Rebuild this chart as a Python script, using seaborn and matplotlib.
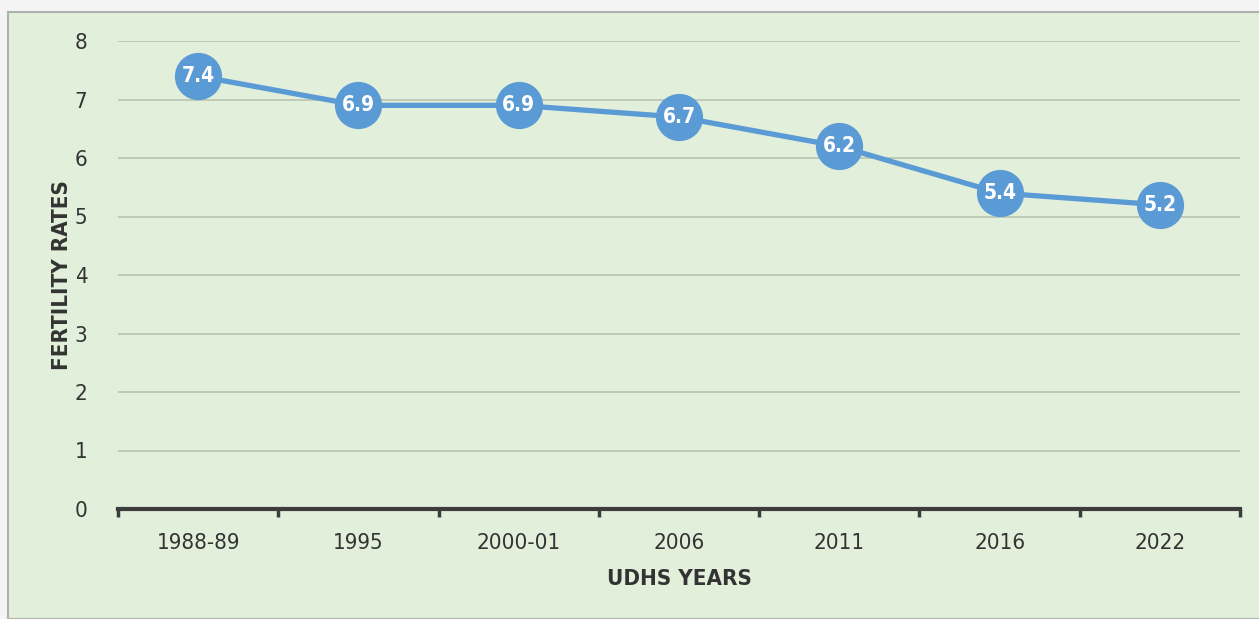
import numpy as np
import pandas as pd
import matplotlib
matplotlib.use("Agg")
import matplotlib.pyplot as plt
import seaborn as sns
from matplotlib.patches import Rectangle

years = ["1988-89", "1995", "2000-01", "2006", "2011", "2016", "2022"]
rates = [7.4, 6.9, 6.9, 6.7, 6.2, 5.4, 5.2]
yticks = [0, 1, 2, 3, 4, 5, 6, 7, 8]

sns.set_style("white")
plt.rcParams['font.family'] = ['DejaVu Sans']
plt.rcParams['font.stretch'] = 'condensed'

df = pd.DataFrame({"year": years, "rate": rates})

fig = plt.figure(figsize=(12.59, 6.19), dpi=100, facecolor="#f4f4f4")
# green panel behind the chart
fig.patches.append(Rectangle((8/1259, 0), 1 - 8/1259 + 0.01, 1 - 12/619,
                             transform=fig.transFigure, facecolor="#e2efda",
                             edgecolor="#b0b0b0", linewidth=1.5, zorder=-10))

ax = fig.add_axes([118/1259, 1 - 509/619, (1240 - 118)/1259, (509 - 41)/619])
ax.set_facecolor("none")

sns.lineplot(data=df, x="year", y="rate", ax=ax, color="#5b9bd5",
             linewidth=3.8, marker="o", markersize=34,
             markeredgewidth=0, sort=False, zorder=3)

for i, v in enumerate(rates):
    ax.text(i, v, f"{v:.1f}", ha="center", va="center", color="white",
            fontsize=15, fontweight="bold", zorder=4)

ax.set_xlim(-0.5, len(years) - 0.5)
ax.set_ylim(0, 8)
ax.set_yticks(yticks)
ax.yaxis.grid(True, color="#bfc9b8", linewidth=1.4)
ax.set_axisbelow(True)

for s in ["top", "right", "left"]:
    ax.spines[s].set_visible(False)
ax.spines["bottom"].set_color("#3c3c3c")
ax.spines["bottom"].set_linewidth(3)

ax.set_xticks(range(len(years)))
ax.set_xticklabels(years)
ax.set_xticks(np.arange(-0.5, len(years), 1), minor=True)
ax.tick_params(axis="x", which="major", bottom=False, length=0, pad=17,
               labelsize=16, labelcolor="#333333")
ax.tick_params(axis="x", which="minor", bottom=True, length=6, width=2.5,
               color="#3c3c3c", direction="out")
ax.tick_params(axis="y", left=False, length=0, pad=22, labelsize=16,
               labelcolor="#333333")

ax.set_xlabel("UDHS YEARS", fontsize=16, fontweight="bold", color="#333333",
              labelpad=12)
ax.set_ylabel("FERTILITY RATES", fontsize=16, fontweight="bold",
              color="#333333", labelpad=2)

plt.savefig("out.png", dpi=100, facecolor=fig.get_facecolor())
